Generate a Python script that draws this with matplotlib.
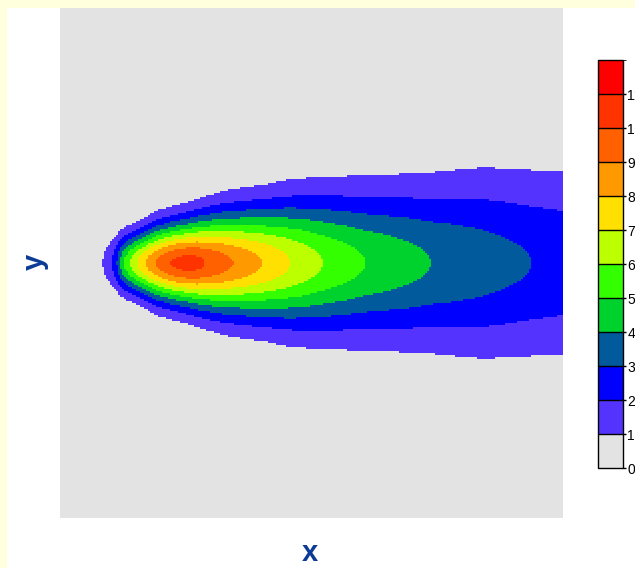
import numpy as np
import matplotlib
matplotlib.use("Agg")
import matplotlib.pyplot as plt
from matplotlib.colors import ListedColormap, BoundaryNorm
from matplotlib.patches import Rectangle

# centerline value along the plume axis (read at the contour crossings)
x_center = [0, 70, 85, 103, 113, 119, 127, 139, 153, 169, 189, 219,
            236, 252, 270, 288, 344, 402, 457, 523, 608, 738, 938, 1000]
c_center = [0, 0, 1, 2, 3, 4, 5, 6, 7, 8, 9, 10,
            10.3, 10.4, 10.3, 10, 9, 8, 7, 6, 5, 4, 3, 2.75]

# crosswind spread of the plume (from the contour half-widths)
x_sigma = [0, 85, 105, 153, 195, 252, 328, 411, 451, 511, 650, 755, 841, 948, 1000]
sigma = [35, 35, 37, 41, 49, 55, 67, 76, 82, 88, 98, 108, 118, 123, 127]

levels = list(range(13))
tick_values = list(range(12))
colors = ["#e3e3e3", "#5533ff", "#0000ff", "#005a9c", "#00d22d", "#33ff00",
          "#bbff00", "#ffe000", "#ff9900", "#ff6000", "#ff3300", "#ff0000"]

x_range = (0, 1000)
y_range = (-500, 500)

W, H = 635, 568
fig = plt.figure(figsize=(W / 100, H / 100), dpi=100, facecolor="#ffffdd")
# white canvas inside the yellow page border
fig.patches.append(Rectangle((7 / W, 0), 1, 1 - 8 / H, transform=fig.transFigure,
                             facecolor="white", edgecolor="none", zorder=-5))

ax = fig.add_axes([60 / W, 1 - 518 / H, 503 / W, 510 / H])

# 2D field built on a grid from the centerline and spread profiles
xe = np.linspace(*x_range, 253)
ye = np.linspace(*y_range, 257)
xc = 0.5 * (xe[1:] + xe[:-1])
yc = 0.5 * (ye[1:] + ye[:-1])
X, Y = np.meshgrid(xc, yc)
c0 = np.interp(X, x_center, c_center)
s = np.interp(X, x_sigma, sigma)
Z = c0 * np.exp(-Y ** 2 / (2 * s ** 2))

cmap = ListedColormap(colors)
norm = BoundaryNorm(levels, cmap.N)
mesh = ax.pcolormesh(xe, ye, Z, cmap=cmap, norm=norm, shading="flat")

ax.set_xlim(*x_range)
ax.set_ylim(*y_range)
ax.set_xticks([])
ax.set_yticks([])
for sp in ax.spines.values():
    sp.set_visible(False)

label_color = "#0c3b97"
ax.set_xlabel("x", fontsize=21, fontweight="bold", color=label_color,
              family=["Liberation Sans", "DejaVu Sans"])
ax.xaxis.set_label_coords(0.497, -0.069)
ax.xaxis.label.set_va("center")
ax.set_ylabel("y", fontsize=21, fontweight="bold", color=label_color,
              family=["Liberation Sans", "DejaVu Sans"])
ax.yaxis.set_label_coords(-0.05, 0.502)
ax.yaxis.label.set_va("center")

# palette on the right; its labels run off the page edge as in the original
cax = fig.add_axes([598 / W, 1 - 468 / H, 25 / W, 408 / H])
cb = fig.colorbar(mesh, cax=cax, ticks=tick_values, drawedges=True)
cb.outline.set_linewidth(1)
cb.outline.set_edgecolor("black")
cb.dividers.set_color("black")
cb.dividers.set_linewidth(1)
cax.tick_params(length=2, width=1, pad=1, labelsize=10)
for t in cax.get_yticklabels():
    t.set_family(["Liberation Sans", "DejaVu Sans"])

fig.savefig("out.png", dpi=100, facecolor=fig.get_facecolor())
